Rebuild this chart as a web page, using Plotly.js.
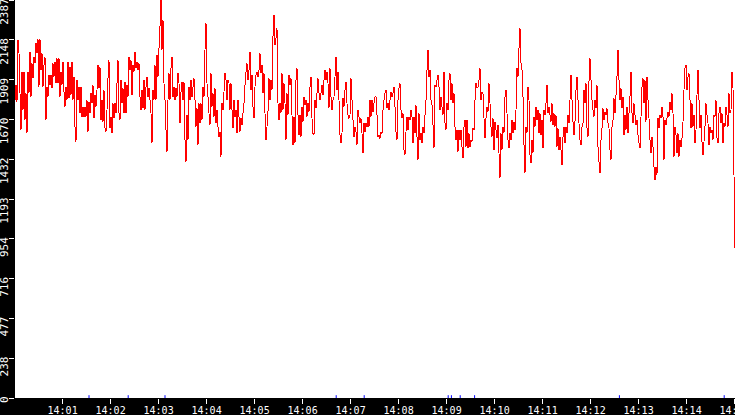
<!DOCTYPE html>
<html>
<head>
<meta charset="utf-8">
<script src="https://cdn.plot.ly/plotly-3.0.1.min.js"></script>
<style>
  html, body { margin: 0; padding: 0; background: #000; }
  #chart { width: 735px; height: 415px; }
  /* the reference line is drawn without anti-aliasing */
  #chart .scatterlayer path.js-line { shape-rendering: crispEdges; }
</style>
</head>
<body>
<div id="chart"></div>
<script>
// one reading every 1.25 s, starting 14:00:00.5
const startTime = '2024-01-01T14:00:00.5Z';
const endTime = '2024-01-01T14:15:00.5Z';
const stepMs = 1250;

const values = [
  1787, 1877, 1777, 2147, 2067, 1827, 1607, 1957, 1727, 1957,
  1667, 1827, 1587, 1957, 1827, 2077, 1807, 2007, 1917, 2047,
  2007, 2127, 2067, 2151, 1867, 2151, 1967, 2067, 1867, 1997,
  2047, 1667, 1867, 1807, 1937, 1877, 1937, 1857, 2007, 1927,
  2017, 1887, 2037, 1887, 2037, 1807, 1957, 1877, 2017, 1837,
  1747, 1867, 1787, 2017, 1797, 1987, 1817, 2017, 1787, 1927,
  1627, 1537, 1907, 1787, 1867, 1707, 1867, 1687, 1747, 1687,
  1747, 1687, 1787, 1597, 1777, 1707, 1827, 1767, 1877, 1677,
  1817, 1747, 1847, 1997, 1857, 1987, 1667, 1787, 1657, 1847,
  1617,
  1597, 1727, 1917, 2027, 1617, 1687, 1587, 1767, 1677, 1767,
  1707, 1887, 2027, 1707, 1667, 1907, 1767, 1857, 1707, 1897,
  1707, 1877, 1807, 2047, 1967, 2027, 1817, 1997, 1957, 2077,
  1977, 2017, 1967, 2007, 1807, 1727, 1847, 1737, 1907, 1727,
  1867, 1927, 1807, 1857, 1787, 1707, 1527, 1847, 1787, 1997,
  1787, 2057, 1927, 2097, 2227, 2387, 2087, 2267, 1887, 1787,
  1607, 1477, 1787, 1947, 1787, 1977, 2047, 1807, 1867, 1787,
  1857, 1807, 1947, 1887, 1647, 1837, 1897, 1787, 1897, 1547,
  1417, 1697, 1547, 1867, 1787, 1907, 1807, 1867, 1917, 1787,
  1627, 1737, 1517, 1767, 1647, 1767, 1667, 1867, 1807, 2087,
  2247, 1887, 1807, 1707, 1637, 1947, 1747, 1827, 1687, 1857,
  1647, 1727, 1627, 1567, 1597, 1447, 1767, 1727, 1837, 1947,
  1907, 1787, 1907, 1887, 1727, 1887, 1727, 1617, 1787, 1687,
  1727, 1587, 1787, 1687, 1597, 1677, 1637, 1707, 1767, 1877,
  1957, 2007, 1907, 1967, 2077, 1847, 1937, 1747, 1677, 1867,
  1937, 1957, 1927, 1967, 2067, 1947, 1997, 1827, 1947, 1707,
  1547, 1627, 1717, 1917, 1787, 1907, 1847, 2167, 2297, 2117,
  2157, 2217, 1767, 1667, 1767, 1707, 1947, 1727, 1887, 1767,
  1547, 1827, 1697, 1937, 1877, 1917, 1697, 1517, 1687, 1527,
  1907, 1977, 1697, 1577, 1697, 1567, 1747, 1657, 1807, 1757,
  1787, 1687, 1767, 1717, 1867, 1927, 1677, 1587, 1577, 1787,
  1737, 1827, 1917, 1827, 1787, 1827, 1877, 1817, 1907, 1967,
  1907, 1957, 1887, 1737, 1977, 1807, 1727, 1787, 1807, 1927,
  2047, 1847, 1957, 1787, 1577, 1527, 1587, 1797, 1747, 1847,
  1897, 1767, 1697, 1677, 1697, 1917, 1787, 1667, 1567, 1627,
  1597, 1517, 1727, 1687, 1647, 1677, 1587, 1467, 1647, 1597,
  1647, 1627, 1687, 1627, 1787, 1687, 1787, 1717, 1767, 1807,
  1807, 1697, 1567, 1577, 1557, 1597, 1587, 1727, 1787, 1827,
  1847, 1737, 1767, 1727, 1787, 1837, 1807, 1827, 1867, 1747,
  1597, 1547, 1787, 1857, 1887, 1727, 1677, 1707, 1487, 1457,
  1597, 1687, 1607, 1687, 1667, 1727, 1687, 1527, 1687, 1587,
  1757, 1567, 1427, 1707, 1547, 1587, 1527, 1627, 1587, 1697,
  1787, 1967, 2087, 1927, 1967, 1787, 1757, 1637, 1497, 1877,
  1867, 1907, 1937, 1867, 1727, 1807, 1747, 1697, 1957, 1647,
  1607, 1767, 1727, 1907, 1947, 1787, 1887, 1767, 1827, 1627,
  1547, 1607, 1477, 1607, 1547, 1607, 1507, 1437, 1627, 1667,
  1507, 1667, 1497, 1587, 1507, 1547, 1537, 1617, 1607, 1787,
  1887, 1857, 1867, 1907, 1977, 1787, 1837, 1827, 1677, 1557,
  1677, 1747, 1717, 1887, 1767, 1627, 1567, 1677, 1487, 1657,
  1607, 1557, 1637, 1467, 1317, 1587, 1487, 1627, 1587, 1807,
  1847, 1707, 1547, 1497, 1587, 1547, 1667, 1587, 1657, 1607,
  1727, 1977, 1927, 2097, 2217, 2007, 1967, 1807, 1517, 1347,
  1627, 1587, 1867, 1787, 1457, 1407, 1547, 1467, 1687, 1627,
  1747, 1667, 1727, 1587, 1707, 1577, 1667, 1497, 1727, 1697,
  1767, 1877, 1707, 1747, 1697, 1657, 1767, 1637, 1707, 1627,
  1697, 1507, 1617, 1487, 1567, 1487, 1397, 1567, 1627, 1527,
  1627, 1587, 1697, 1647, 1787, 1937, 1787, 1657, 1577, 1657,
  1847, 1927, 1787, 1647, 1547, 1517, 1627, 1647, 1847, 1767,
  1887, 1617, 1567, 1897, 2037, 1907, 1787, 1727, 1687, 1787,
  1737, 1877, 1507, 1417, 1347, 1547, 1617, 1737, 1667, 1717,
  1697, 1737, 1647, 1617, 1487, 1427, 1627, 1667, 1797, 1707,
  1817, 1927, 2087, 1907, 1787, 1857, 1737, 1807, 1577, 1697,
  1607, 1747, 1587, 1707, 1807, 1957, 1707, 1647, 1767, 1697,
  1637, 1667, 1577, 1527, 1497, 1687, 1867, 1917, 1767, 1907,
  1657, 1927, 1787, 1677, 1547, 1467, 1567, 1507, 1387, 1307,
  1387, 1337, 1677, 1617, 1697, 1677, 1747, 1687, 1427, 1667,
  1637, 1677, 1717, 1687, 1777, 1727, 1827, 1707, 1447, 1627,
  1577, 1467, 1587, 1447, 1547, 1507, 1557, 1657, 1847, 1977,
  1997, 1847, 1927, 1947, 1787, 1617, 1767, 1627, 1697, 1527,
  1607, 1817, 1967, 1787, 1617, 1697, 1537, 1457, 1537, 1627,
  1767, 1697, 1647, 1517, 1627, 1587, 1607, 1547, 1697, 1687,
  1787, 1557, 1527, 1707, 1747, 1647, 1707, 1527, 1647, 1627,
  1747, 1697, 1627, 1827, 1707, 1727, 1957, 1857, 1337, 897
];

// small blue event marks sitting on the zero line
const eventTimes = [
  '2024-01-01 14:01:33', '2024-01-01 14:02:22', '2024-01-01 14:03:08',
  '2024-01-01 14:06:42', '2024-01-01 14:07:17', '2024-01-01 14:09:02',
  '2024-01-01 14:09:06', '2024-01-01 14:09:17', '2024-01-01 14:09:35',
  '2024-01-01 14:12:36', '2024-01-01 14:14:47'
];
const eventValues = [0, 0, 0, 0, 0, 0, 0, 0, 0, 0, 0];

const yTickVals = [0, 238.7, 477.4, 716.1, 954.8, 1193.5, 1432.2, 1670.9, 1909.6, 2148.3, 2387];
const yTickLabels = ['0', '238', '477', '716', '954', '1193', '1432', '1670', '1909', '2148', '2387'];

// rotated labels sit below their tick: pad the top end with as many spaces as digits
const yTickText = yTickLabels.map(s => s + '\u00a0'.repeat(s.length));

const t0 = Date.parse(startTime);
const times = values.map((_, i) => t0 + i * stepMs);

Plotly.newPlot('chart', [
  {
    type: 'scatter',
    mode: 'lines',
    x: times,
    y: values,
    line: { color: '#ff0000', width: 1, simplify: false },
    hoverinfo: 'skip'
  },
  {
    type: 'scatter',
    mode: 'markers',
    x: eventTimes,
    y: eventValues,
    marker: { symbol: 'line-ns-open', size: 4, color: '#0000ff', line: { color: '#0000ff', width: 1 } },
    hoverinfo: 'skip'
  }
], {
  width: 735,
  height: 415,
  paper_bgcolor: '#000000',
  plot_bgcolor: '#ffffff',
  margin: { l: 15, r: 0, t: 0, b: 17, pad: 0 },
  showlegend: false,
  xaxis: {
    type: 'date',
    range: [Date.parse(startTime), Date.parse(endTime)],
    tick0: '2024-01-01 14:00:00',
    dtick: 60000,
    tickformat: '%H:%M',
    ticks: 'outside',
    ticklen: 5,
    tickwidth: 1,
    tickcolor: '#ffffff',
    tickfont: { family: 'DejaVu Sans Mono, monospace', size: 10, color: '#ffffff' },
    ticklabelstandoff: -2,
    ticklabeloverflow: 'allow',
    showgrid: false,
    zeroline: false,
    showline: false
  },
  yaxis: {
    range: [0, 2387],
    tickmode: 'array',
    tickvals: yTickVals,
    ticktext: yTickText,
    tickangle: -90,
    ticks: 'outside',
    ticklen: 5,
    tickwidth: 1,
    tickcolor: '#ffffff',
    tickfont: { family: 'DejaVu Sans Mono, monospace', size: 11, color: '#ffffff' },
    ticklabelstandoff: -3,
    ticklabeloverflow: 'allow',
    showgrid: false,
    zeroline: false,
    showline: false
  }
}, { displayModeBar: false, staticPlot: true });
</script>
</body>
</html>
